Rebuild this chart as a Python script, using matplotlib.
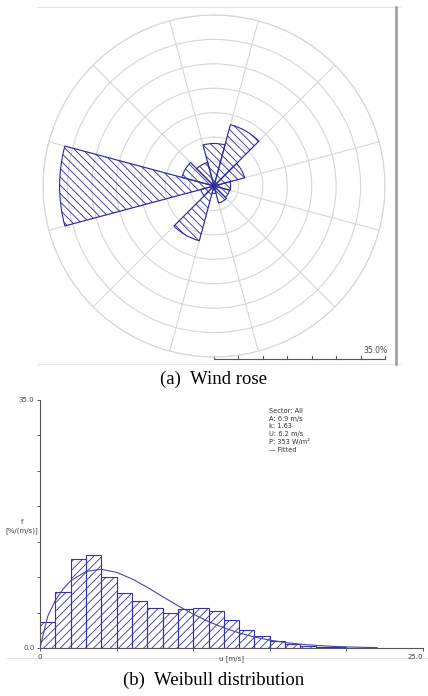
import matplotlib
matplotlib.use("Agg")
import matplotlib.pyplot as plt
import numpy as np
from matplotlib.lines import Line2D

plt.rcParams['font.family'] = ['DejaVu Sans']
plt.rcParams['hatch.linewidth'] = 0.6

# 风玫瑰数据：12个扇区（度，正北顺时针），频率 %
sectors = [0, 30, 60, 90, 120, 150, 180, 210, 240, 270, 300, 330]
freq = [8.7, 13.0, 6.5, 3.4, 3.3, 3.6, 1.5, 11.6, 2.8, 31.6, 6.8, 5.0]
rmax = 35.0

# 风速分布直方图（1 m/s 一个区间）
u_bins = np.arange(0, 22)
f_hist = [3.7, 7.9, 12.6, 13.1, 10.0, 7.7, 6.7, 5.7, 5.0, 5.5, 5.7, 5.2,
          3.9, 2.6, 1.7, 1.0, 0.5, 0.3, 0.15, 0.1, 0.05, 0.03]
# 拟合曲线
u_fit = [0, 0.5, 1, 1.5, 2, 3, 4, 5, 6, 7, 8, 9, 10, 11, 12, 13, 14, 15,
         16, 17, 18, 19, 20, 21, 22]
f_fit = [0, 4.46, 6.70, 8.31, 9.48, 10.81, 11.11, 10.67, 9.76, 8.57, 7.26,
         5.97, 4.78, 3.73, 2.85, 2.12, 1.55, 1.11, 0.78, 0.54, 0.37, 0.24,
         0.16, 0.10, 0.06]
info = ["Sector: All", "A: 6.9 m/s", "k: 1.63", "U: 6.2 m/s",
        "P: 353 W/m\u00b2", "\u2014 Fitted"]

W, H = 428, 696
fig = plt.figure(figsize=(W / 100, H / 100), dpi=100)

# 背景辅助坐标（像素）
ax0 = fig.add_axes([0, 0, 1, 1])
ax0.set_xlim(0, W)
ax0.set_ylim(H, 0)
ax0.axis('off')

# 风玫瑰
cx, cy, R = 214, 186, 171
axp = fig.add_axes([(cx - R) / W, 1 - (cy + R) / H, 2 * R / W, 2 * R / H],
                   projection='polar')
axp.set_theta_zero_location('N')
axp.set_theta_direction(-1)
axp.bar(np.deg2rad(sectors), freq, width=np.deg2rad(30), bottom=0,
        facecolor='none', edgecolor='#2a2a9c', linewidth=0.8,
        hatch='\\\\\\\\', zorder=3)
axp.set_ylim(0, rmax)
axp.set_yticks(np.arange(5, 36, 5))
axp.set_yticklabels([])
axp.set_xticks(np.deg2rad(np.arange(15, 360, 30)))
axp.set_xticklabels([])
axp.grid(True, color='#d6d6d6', linewidth=0.8)
axp.spines['polar'].set_color('#d6d6d6')
axp.spines['polar'].set_linewidth(0.8)
axp.patch.set_alpha(0)

# 面板边框
ax0.add_line(Line2D([37, 400], [7, 7], color='#e4e4e4', lw=0.8))
ax0.add_line(Line2D([37, 400], [364, 364], color='#e4e4e4', lw=0.8))
ax0.add_line(Line2D([396, 396], [7, 364], color='#9a9a9a', lw=1.8))

# 比例尺
sy = 359
ax0.add_line(Line2D([cx, cx + R], [sy, sy], color='#555555', lw=0.8))
for i in range(8):
    xt = cx + R * i / 7
    ax0.add_line(Line2D([xt, xt], [sy, sy - 3], color='#555555', lw=0.8))
ax0.text(cx + R + 3, sy - 4, "%.1f%%" % rmax, ha='right', va='bottom',
         fontsize=5.5, color='#444444')

ax0.text(214, 379, "(a)  Wind rose", ha='center', va='center',
         fontsize=13.5, family='Liberation Serif')

# 威布尔分布
axh = fig.add_axes([40 / W, 1 - 648 / H, 383 / W, 248 / H])
axh.bar(u_bins, f_hist, width=1.0, align='edge', facecolor='none',
        edgecolor='#3434a4', linewidth=0.8, hatch='////', zorder=2)
axh.plot(u_fit, f_fit, color='#4646b4', lw=0.8, zorder=3)
axh.set_xlim(0, 25)
axh.set_ylim(0, 35)
axh.set_xticks(np.arange(0, 26, 5))
axh.set_xticklabels(['0', '', '', '', '', '25.0'])
axh.set_yticks(np.arange(0, 36, 5))
axh.set_yticklabels(['0.0', '', '', '', '', '', '', '35.0'])
axh.tick_params(labelsize=5, colors='#444444', length=2.5, width=0.6, pad=1.5)
axh.get_xticklabels()[-1].set_horizontalalignment('right')
for s in ['top', 'right']:
    axh.spines[s].set_visible(False)
for s in ['left', 'bottom']:
    axh.spines[s].set_color('#555555')
    axh.spines[s].set_linewidth(0.8)
axh.text(0.5, -0.03, "u [m/s]", transform=axh.transAxes, ha='center',
         va='top', fontsize=5, color='#444444')
axh.text(-0.047, 0.49, "f\n[%/(m/s)]", transform=axh.transAxes, ha='center',
         va='center', fontsize=5, color='#444444', linespacing=1.3)
axh.patch.set_alpha(0)
for i, t in enumerate(info):
    ax0.text(269, 411 + i * 7.7, t, ha='left', va='center', fontsize=4.8,
             color='#333333')

ax0.add_line(Line2D([7, 428], [658, 658], color='#e4e4e4', lw=0.8))
ax0.text(214, 680, "(b)  Weibull distribution", ha='center', va='center',
         fontsize=13.5, family='Liberation Serif')

fig.savefig("out.png", dpi=100)
